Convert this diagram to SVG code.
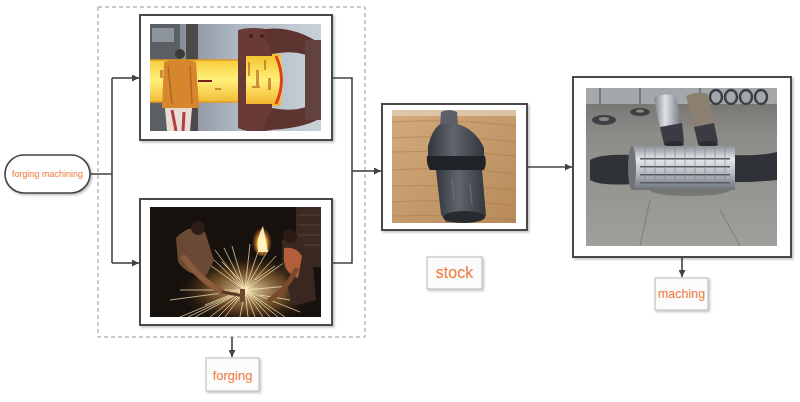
<svg xmlns="http://www.w3.org/2000/svg" width="800" height="402" viewBox="0 0 800 402">
<style>
.frame{fill:#fff;stroke:#4a4a4a;stroke-width:2}
.conn{fill:none;stroke:#444;stroke-width:1.6}
.lbl{fill:#fbfbfb;stroke:#b8b8b8;stroke-width:1}
.txt{font-family:"Liberation Sans",Arial,sans-serif;fill:#f07a3c;text-anchor:middle;dominant-baseline:central}
.spark{stroke:#fff3c0;stroke-width:0.8;opacity:0.85}
</style>
<defs>
<marker id="ah" viewBox="0 0 10 10" refX="10" refY="5" markerWidth="7" markerHeight="7" markerUnits="userSpaceOnUse" orient="auto">
<path d="M0,0 L10,5 L0,10 z" fill="#444"/>
</marker>
<filter id="sh" x="-20%" y="-20%" width="150%" height="150%">
<feDropShadow dx="1.5" dy="1.5" stdDeviation="1.2" flood-color="#000" flood-opacity="0.25"/>
</filter>
<clipPath id="c1"><rect x="150" y="24" width="171" height="107"/></clipPath>
<clipPath id="c2"><rect x="150" y="207" width="171" height="110"/></clipPath>
<clipPath id="c3"><rect x="392" y="110" width="124" height="113"/></clipPath>
<clipPath id="c4"><rect x="586" y="88" width="191" height="158"/></clipPath>
<linearGradient id="billet" x1="0" y1="0" x2="0" y2="1">
<stop offset="0" stop-color="#f3c12a"/><stop offset="0.5" stop-color="#fff07a"/><stop offset="1" stop-color="#f0b22a"/>
</linearGradient>
<linearGradient id="bg1" x1="0" y1="0" x2="1" y2="0">
<stop offset="0" stop-color="#6f7780"/><stop offset="0.5" stop-color="#aeb8c3"/><stop offset="1" stop-color="#c9d1d8"/>
</linearGradient>
<radialGradient id="fire" cx="0.5" cy="0.6" r="0.5">
<stop offset="0" stop-color="#fffbe0"/><stop offset="0.4" stop-color="#ffc23a"/><stop offset="1" stop-color="#e2561a" stop-opacity="0"/>
</radialGradient>
<radialGradient id="sparkglow" cx="0.5" cy="0.5" r="0.5">
<stop offset="0" stop-color="#fff0c0" stop-opacity="0.9"/><stop offset="0.6" stop-color="#d89040" stop-opacity="0.35"/><stop offset="1" stop-color="#3a2010" stop-opacity="0"/>
</radialGradient>
<linearGradient id="wood" x1="0" y1="0" x2="1" y2="1">
<stop offset="0" stop-color="#d2ab7c"/><stop offset="1" stop-color="#b88a5a"/>
</linearGradient>
<linearGradient id="steel" x1="0" y1="0" x2="0" y2="1">
<stop offset="0" stop-color="#8e939a"/><stop offset="0.3" stop-color="#e4e7ea"/><stop offset="0.6" stop-color="#b9bec4"/><stop offset="1" stop-color="#6c7178"/>
</linearGradient>
<linearGradient id="steelv" x1="0" y1="0" x2="1" y2="0">
<stop offset="0" stop-color="#7e838a"/><stop offset="0.4" stop-color="#dfe2e6"/><stop offset="1" stop-color="#6c7178"/>
</linearGradient>
<linearGradient id="floor" x1="0" y1="0" x2="0" y2="1">
<stop offset="0" stop-color="#6e6d6a"/><stop offset="0.3" stop-color="#8e8c88"/><stop offset="1" stop-color="#a19f9b"/>
</linearGradient>
<linearGradient id="part" x1="0" y1="0" x2="1" y2="0">
<stop offset="0" stop-color="#33363c"/><stop offset="0.45" stop-color="#60656d"/><stop offset="1" stop-color="#33363b"/>
</linearGradient>
</defs>

<rect width="800" height="402" fill="#fff"/>

<g id="forging-group">
<rect x="98" y="7" width="267" height="330" fill="none" stroke="#999" stroke-width="1" stroke-dasharray="4,3"/>
</g>

<g id="connectors">
<path class="conn" d="M90,174 H112 M112,78 V263"/>
<path class="conn" d="M112,78 H139" marker-end="url(#ah)"/>
<path class="conn" d="M112,263 H139" marker-end="url(#ah)"/>
<path class="conn" d="M333,78 H352 V263 H333"/>
<path class="conn" d="M352,171 H381" marker-end="url(#ah)"/>
<path class="conn" d="M528,167 H572" marker-end="url(#ah)"/>
<path class="conn" d="M682,258 V277" marker-end="url(#ah)"/>
<path class="conn" d="M232,337 V357" marker-end="url(#ah)"/>
</g>

<g id="node-start">
<rect x="5" y="155" width="85" height="38" rx="19" fill="#fff" stroke="#444" stroke-width="1.6" filter="url(#sh)"/>
<text class="txt" x="47.5" y="174" font-size="9">forging machining</text>
</g>

<g id="node-press">
<rect class="frame" x="140" y="15" width="192" height="125" filter="url(#sh)"/>
<g clip-path="url(#c1)">
<rect x="150" y="24" width="171" height="107" fill="url(#bg1)"/>
<rect x="150" y="24" width="30" height="107" fill="#5b5f63"/>
<rect x="152" y="28" width="22" height="14" fill="#8d959c"/>
<rect x="186" y="24" width="12" height="107" fill="#4c4a48"/>
<path d="M150,60 H240 L246,54 H280 Q286,80 280,106 H246 L240,102 H150 z" fill="url(#billet)"/>
<path d="M276,56 Q287,80 276,104" stroke="#e2401a" stroke-width="3" fill="none"/>
<path d="M150,60 H240 M150,102 H240" stroke="#e39a24" stroke-width="1.5"/>
<g fill="#b5541d" opacity="0.6">
<rect x="248" y="62" width="2" height="14"/><rect x="256" y="70" width="3" height="18"/><rect x="264" y="60" width="2" height="10"/><rect x="252" y="86" width="8" height="2"/><rect x="268" y="78" width="3" height="12"/><rect x="160" y="70" width="3" height="8"/><rect x="215" y="88" width="6" height="2"/>
</g>
<path d="M238,30 Q250,26 272,30 L272,56 L246,56 L246,104 L272,104 L272,130 Q250,134 238,128 z" fill="#6a3b35"/>
<path d="M262,30 Q290,24 321,44 V62 Q300,48 272,54 z" fill="#5e3430"/>
<path d="M272,108 Q300,114 321,100 V118 Q300,130 262,130 z" fill="#5e3430"/>
<rect x="305" y="40" width="16" height="80" fill="#62423d"/>
<circle cx="251" cy="36" r="2" fill="#3a2420"/><circle cx="262" cy="36" r="2" fill="#3a2420"/>
<path d="M164,62 Q180,56 196,62 L199,108 H162 z" fill="#d6872e"/>
<path d="M168,66 L172,104 M190,66 L192,104" stroke="#b06820" stroke-width="1.5"/>
<circle cx="180" cy="54" r="5" fill="#3e3a36"/>
<path d="M165,108 H192 L190,131 H167 z" fill="#e8dcd4"/>
<path d="M172,110 L176,131 M184,112 L183,131" stroke="#b04040" stroke-width="3"/>
<rect x="198" y="80" width="14" height="2" fill="#7a2020"/>
</g>
</g>

<g id="node-hammer">
<rect class="frame" x="140" y="199" width="192" height="126" filter="url(#sh)"/>
<g clip-path="url(#c2)">
<rect x="150" y="207" width="171" height="110" fill="#17110d"/>
<rect x="296" y="207" width="25" height="60" fill="#3c2a22"/>
<path d="M298,215 H321 M298,225 H321 M298,235 H321 M298,245 H321" stroke="#5a3e30" stroke-width="1"/>
<ellipse cx="248" cy="290" rx="70" ry="35" fill="url(#sparkglow)"/>
<g class="spark">
<path d="M245,290 L180,317 M245,290 L195,317 M245,290 L210,317 M245,290 L225,317 M245,290 L240,317 M245,290 L255,317 M245,290 L270,317 M245,290 L285,317 M245,290 L300,312 M245,290 L188,317 M245,290 L218,317 M245,290 L248,317 M245,290 L263,317 M245,290 L278,317"/>
<path d="M245,290 L200,258 M245,290 L215,250 M245,290 L232,246 M245,290 L250,244 M245,290 L268,250 M245,290 L285,262 M245,290 L300,285 M245,290 L180,290 M245,290 L170,300 M245,290 L208,254 M245,290 L224,248 M245,290 L260,246 M245,290 L276,256"/>
<path d="M230,295 L205,305 M260,295 L290,300 M240,280 L222,262 M255,280 L275,266"/>
</g>
<ellipse cx="262" cy="240" rx="10" ry="16" fill="url(#fire)"/>
<path d="M258,252 Q256,238 263,226 Q266,240 268,252 z" fill="#fff6c8" opacity="0.9"/>
<path d="M176,238 Q190,222 205,232 L214,260 L206,276 Q188,276 178,262 z" fill="#6b4a35"/>
<circle cx="198" cy="228" r="7" fill="#2c1e16"/>
<path d="M184,258 Q200,280 222,292" stroke="#8a5a3a" stroke-width="6" fill="none" stroke-linecap="round"/>
<path d="M222,292 L244,296" stroke="#5a3a24" stroke-width="3"/>
<rect x="240" y="289" width="5" height="13" fill="#6a4a30"/>
<path d="M282,240 Q300,238 312,252 L316,300 L292,306 Q286,280 282,260 z" fill="#3a2820"/>
<path d="M284,248 Q296,246 302,256 L298,278 Q286,274 284,262 z" fill="#b3603a"/>
<circle cx="290" cy="236" r="7" fill="#2a1c14"/>
<path d="M296,270 Q286,290 270,300" stroke="#7a4a2e" stroke-width="5" fill="none" stroke-linecap="round"/>
</g>
</g>

<g id="node-stock">
<rect class="frame" x="382" y="104" width="145" height="126" filter="url(#sh)"/>
<g clip-path="url(#c3)">
<rect x="392" y="110" width="124" height="113" fill="url(#wood)"/>
<g stroke="#a87a4c" stroke-width="0.8" opacity="0.7" fill="none">
<path d="M392,122 Q450,118 516,126"/><path d="M392,138 Q450,134 516,142"/><path d="M392,152 Q450,150 516,156"/><path d="M392,170 Q450,166 516,174"/><path d="M392,186 Q450,184 516,190"/><path d="M392,202 Q450,198 516,206"/><path d="M392,216 Q450,214 516,220"/>
</g>
<rect x="392" y="110" width="124" height="6" fill="#e8dcc8" opacity="0.6"/>
<path d="M441,112 Q449,108 457,112 L458,126 L440,126 z" fill="#5b6068"/>
<path d="M440,124 H458 Q476,130 484,148 L484,158 H428 L428,146 Q432,130 440,124 z" fill="url(#part)"/>
<path d="M427,156 H485 Q487,164 484,170 H430 Q426,164 427,156 z" fill="#202327"/>
<path d="M436,170 H482 L486,216 Q472,224 446,222 L441,214 z" fill="url(#part)"/>
<ellipse cx="464" cy="217" rx="21" ry="6" fill="#272a2f"/>
<path d="M452,178 L454,200 M470,184 L472,204" stroke="#7c8189" stroke-width="1.2" opacity="0.6"/>
</g>
</g>

<g id="node-machining">
<rect class="frame" x="573" y="77" width="218" height="180" filter="url(#sh)"/>
<g clip-path="url(#c4)">
<rect x="586" y="88" width="191" height="158" fill="url(#floor)"/>
<rect x="586" y="88" width="191" height="16" fill="#a5a8aa"/>
<path d="M600,88 V104 M640,88 V104 M700,88 V104" stroke="#6a6a6a" stroke-width="1.5"/>
<g fill="none" stroke="#3c3f44" stroke-width="2.5">
<ellipse cx="716" cy="97" rx="6" ry="7"/><ellipse cx="731" cy="97" rx="6" ry="7"/><ellipse cx="746" cy="97" rx="6" ry="7"/><ellipse cx="761" cy="97" rx="6" ry="7"/>
</g>
<ellipse cx="604" cy="120" rx="12" ry="5" fill="#3e3f42"/><ellipse cx="604" cy="119" rx="5" ry="2" fill="#8a8884"/>
<ellipse cx="640" cy="112" rx="10" ry="4" fill="#3e3f42"/><ellipse cx="640" cy="111" rx="4" ry="1.6" fill="#8a8884"/>
<path d="M654,98 Q664,92 676,96 L682,124 L660,128 z" fill="url(#steelv)"/>
<path d="M660,127 L682,123 L684,142 Q674,148 664,144 z" fill="#3a3c42"/>
<ellipse cx="674" cy="144" rx="10" ry="3" fill="#2a2c30"/>
<path d="M686,96 Q698,90 708,94 L714,124 L694,128 z" fill="#8c8070"/>
<path d="M694,127 L714,123 L718,142 Q708,148 698,144 z" fill="#3a3c42"/>
<ellipse cx="708" cy="144" rx="10" ry="3" fill="#2a2c30"/>
<ellipse cx="690" cy="190" rx="40" ry="6" fill="#6a6864" opacity="0.7"/>
<path d="M590,160 Q600,154 632,155 V184 Q600,186 590,180 z" fill="#2f3236"/>
<path d="M735,155 Q760,156 777,152 V180 Q760,182 735,182 z" fill="#2f3236"/>
<path d="M632,146 H735 V190 H632 z" fill="url(#steel)"/>
<ellipse cx="632" cy="168" rx="4" ry="22" fill="#6e737a"/>
<g fill="#555a60">
<rect x="640" y="158" width="90" height="1.5"/><rect x="640" y="166" width="90" height="1.5"/><rect x="640" y="174" width="90" height="1.5"/><rect x="640" y="182" width="90" height="1.5"/>
</g>
<g stroke="#7e838a" stroke-width="0.6">
<path d="M645,147 V189 M655,147 V189 M665,147 V189 M675,147 V189 M685,147 V189 M695,147 V189 M705,147 V189 M715,147 V189 M725,147 V189"/>
</g>
<path d="M650,200 L640,246 M720,210 L740,246" stroke="#7d7b77" stroke-width="1"/>
</g>
</g>

<g id="label-forging">
<rect class="lbl" x="206" y="358" width="53" height="33" filter="url(#sh)"/>
<text class="txt" x="232.5" y="375" font-size="13">forging</text>
</g>
<g id="label-stock">
<rect class="lbl" x="427" y="257" width="55" height="32" filter="url(#sh)"/>
<text class="txt" x="454.5" y="272" font-size="16">stock</text>
</g>
<g id="label-maching">
<rect class="lbl" x="655" y="278" width="53" height="32" filter="url(#sh)"/>
<text class="txt" x="681.5" y="294" font-size="12.5">maching</text>
</g>
</svg>
